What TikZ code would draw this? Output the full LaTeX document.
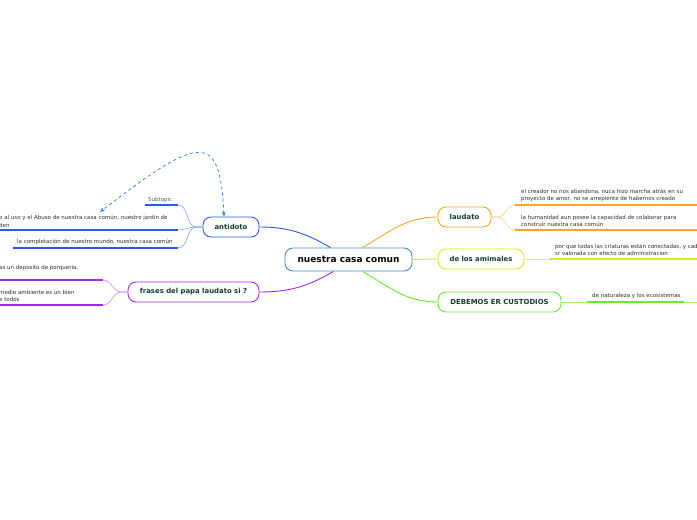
\documentclass[tikz,border=0pt]{standalone}
\usepackage{fontspec}
\setmainfont{DejaVu Sans}
\usetikzlibrary{arrows.meta}
\definecolor{casablue}{RGB}{70,140,200}
\definecolor{antblue}{RGB}{40,90,240}
\definecolor{dashblue}{RGB}{40,120,230}
\definecolor{frpurple}{RGB}{160,40,240}
\definecolor{laorange}{RGB}{245,165,40}
\definecolor{animyellow}{RGB}{215,240,20}
\definecolor{custgreen}{RGB}{100,235,50}
\definecolor{labeltext}{RGB}{20,60,50}
\definecolor{leaftext}{RGB}{45,45,45}
\tikzset{
  main topic/.style={draw=casablue, line width=0.9pt, rounded corners=8pt, fill=white,
    minimum width=127pt, minimum height=23pt, font=\fontsize{9}{10}\selectfont\bfseries, text=black},
  main branch/.style={line width=0.9pt, rounded corners=8pt, fill=white, minimum height=20pt,
    font=\fontsize{6.9}{8}\selectfont\bfseries, text=labeltext},
  leaf/.style={anchor=south west, inner sep=0pt, align=left,
    font=\fontsize{5.5}{7.6}\selectfont, text=leaftext},
  underline/.style={line width=1.4pt},
  twig/.style={line width=0.6pt},
}

\begin{document}
\begin{tikzpicture}[x=1pt, y=-1pt]
  \useasboundingbox (0,0) rectangle (697,520);
  \clip (0,0) rectangle (697,520);
  % central topic and main branches
  \node[main topic] (casa) at (348.5,259.5) {nuestra casa comun};
  \node[main branch, draw=antblue, minimum width=56pt] (anti) at (231,227) {antidoto};
  \node[main branch, draw=frpurple, minimum width=131pt] (frases) at (193.5,292) {frases del papa laudato si ?};
  \node[main branch, draw=laorange, minimum width=53pt] (laud) at (464.5,217) {laudato};
  \node[main branch, draw=animyellow, minimum width=86pt] (anim) at (481,259) {de los amimales};
  \node[main branch, draw=custgreen, minimum width=123pt] (cust) at (499.5,302) {DEBEMOS ER CUSTODIOS};
  \draw[antblue, line width=0.9pt] ([xshift=-18pt]casa.north) to[out=150, in=0] (anti.east);
  \draw[frpurple, line width=0.9pt] ([xshift=-15pt]casa.south) to[out=210, in=0] (frases.east);
  \draw[laorange, line width=0.9pt] ([xshift=14pt]casa.north) to[out=30, in=180] (laud.west);
  \draw[animyellow, line width=0.9pt] (casa.east) -- (anim.west);
  \draw[custgreen, line width=0.9pt] ([xshift=14pt]casa.south) to[out=-30, in=180] (cust.west);

  % antidoto leaves
  \node[leaf, text=gray!70!black] (sub) at (148,203) {Subtopic};
  \coordinate (subL) at (145,205);  \coordinate (subR) at (178,205);
  \node[leaf] (usoA) at (-1,227.5) {o al uso y el Abuso de nuestra casa común, nuestro jardín de\\den};
  \coordinate (usoL) at (-2,230);  \coordinate (usoR) at (178,230);
  \coordinate (dashEnd) at (100,212);
  \node[leaf] (compl) at (17,244.5) {la completación de nuestro mundo, nuestra casa común};
  \coordinate (complL) at (13,248);  \coordinate (complR) at (178,248);
  \foreach \l/\r in {subL/subR, usoL/usoR, complL/complR}
    \draw[underline, antblue] (\l) -- (\r);
  \foreach \r in {subR, usoR, complR}
    \draw[twig, antblue!55] (anti.west) -- ++(-6,0) to[out=180, in=0] (\r);
  \draw[dashblue, dashed, line width=0.7pt, {Stealth[length=5pt]}-{Stealth[length=5pt]}]
    ([xshift=-7pt]anti.north) .. controls (220,130) and (200,135) .. (dashEnd);

  % frases leaves
  \node[leaf] (porq) at (-1,270.5) {as un deposito de porqueria,};
  \coordinate (porqL) at (-2,280);  \coordinate (porqR) at (103,280);
  \node[leaf] (bien) at (-1,302) {medio ambiente es un bien\\e todos};
  \coordinate (bienL) at (-2,305);  \coordinate (bienR) at (103,305);
  \foreach \l/\r in {porqL/porqR, bienL/bienR}
    \draw[underline, frpurple] (\l) -- (\r);
  \foreach \r in {porqR, bienR}
    \draw[twig, frpurple!55] (frases.west) -- ++(-6,0) to[out=180, in=0] (\r);

  % laudato leaves
  \node[leaf] (creador) at (521,202) {el creador no nos abandona, nuca hizo marcha atrás en su\\proyecto de amor, no se arrepiente de habernos creado};
  \coordinate (creadorL) at (515,205);  \coordinate (creadorR) at (697,205);
  \node[leaf] (human) at (521,227) {la humanidad aun posee la capacidad de colaborar para\\construir nuestra casa común};
  \coordinate (humanL) at (515,230);  \coordinate (humanR) at (697,230);
  \foreach \l/\r in {creadorL/creadorR, humanL/humanR}
    \draw[underline, laorange] (\l) -- (\r);
  \foreach \l in {creadorL, humanL}
    \draw[twig, laorange!55] (laud.east) -- ++(6,0) to[out=0, in=180] (\l);

  % animales leaf
  \node[leaf] (criat) at (555,256) {por que todas las criaturas están conectadas, y cad\\sr valorada con efecto de administracion};
  \coordinate (criatL) at (550,259);  \coordinate (criatR) at (697,259);
  \draw[underline, animyellow] (criatL) -- (criatR);
  \draw[twig, animyellow!70] (anim.east) -- (criatL);

  % custodios leaf
  \node[leaf] (natur) at (592,299) {de naturaleza y los ecosistemas};
  \coordinate (naturL) at (587,302);  \coordinate (naturR) at (684,302);
  \coordinate (naturEnd) at (697,302);
  \draw[twig, custgreen!70] (cust.east) -- (naturEnd);
  \draw[underline, custgreen] (naturL) -- (naturR);
\end{tikzpicture}
\end{document}
